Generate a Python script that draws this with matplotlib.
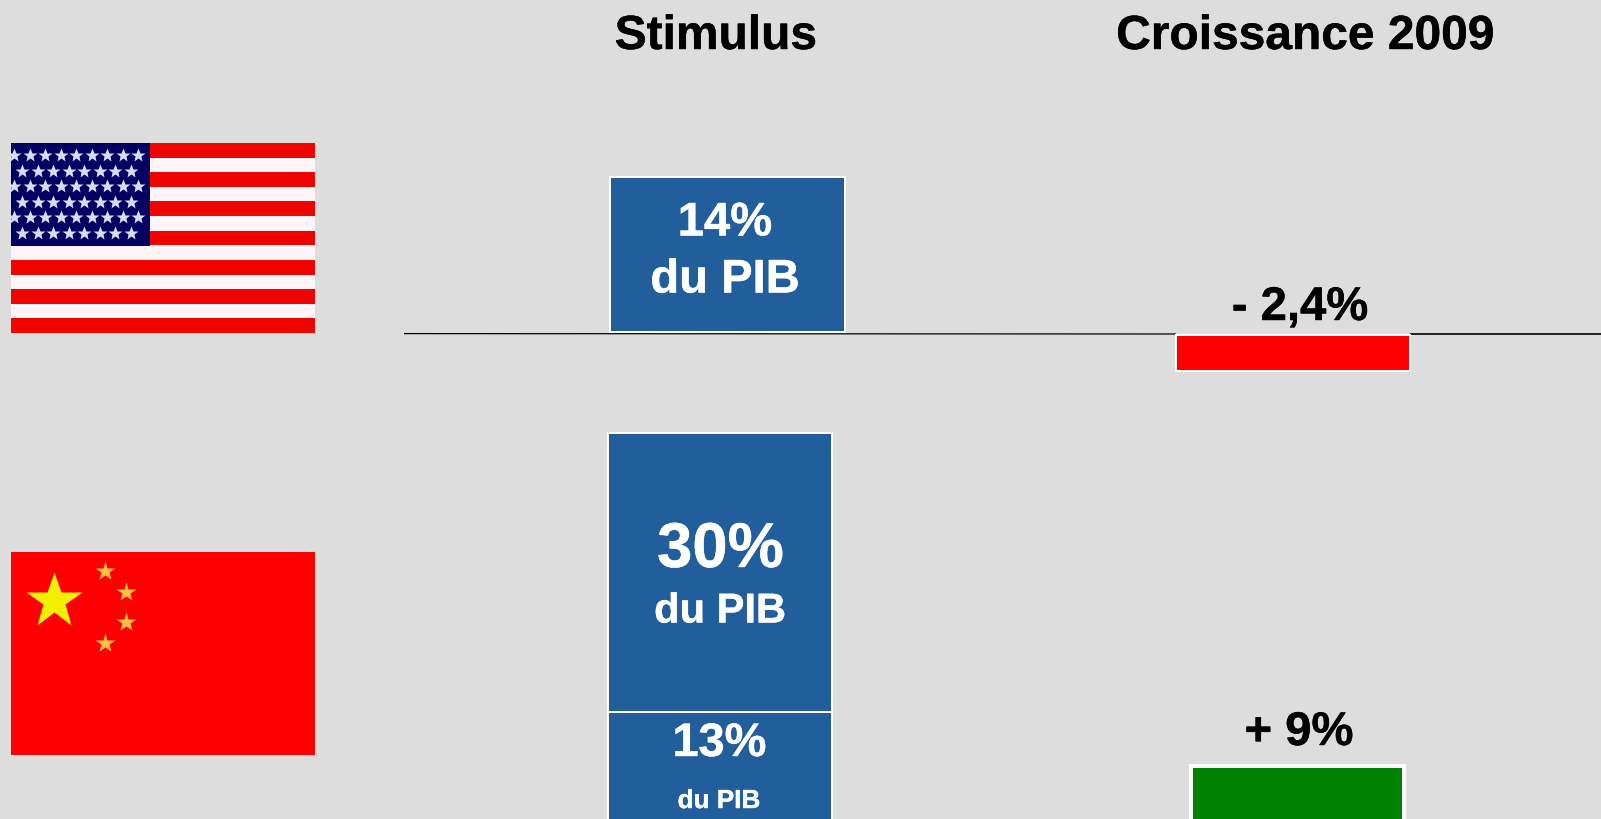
import matplotlib
matplotlib.use("Agg")
import matplotlib.pyplot as plt
import matplotlib.patheffects as pe
from matplotlib.patches import Rectangle

plt.rcParams['font.family'] = ['Liberation Sans', 'DejaVu Sans']

bg_color = '#DDDDDD'
blue = '#225E9B'
red = '#FF0000'
green = '#008000'

# values, in % of GDP and % growth
us_stimulus = 14
china_stimulus = [30, 13]
us_growth = -2.4
china_growth = 9

headers = ['Stimulus', 'Croissance 2009']
us_stimulus_labels = ['14%', 'du PIB']
china_stimulus_labels = ['30%', 'du PIB', '13%', 'du PIB']
growth_labels = ['- 2,4%', '+ 9%']

# the source slide is not to one scale, so each block has its own
px_stim_us = 155 / 14
px_stim_china = 279 / 30
px_growth = 36 / 2.4

fig = plt.figure(figsize=(16.01, 8.2), dpi=100, facecolor=bg_color)
ax = fig.add_axes([0, 0, 1, 1])
ax.set_xlim(0, 1601)
ax.set_ylim(820, 0)
ax.axis('off')


def block(x0, x1, top, height, color, lw=2):
    r = Rectangle((x0, top), x1 - x0, height, facecolor=color, edgecolor='white',
                  linewidth=lw * 0.72, zorder=3)
    ax.add_patch(r)


def label(x, y, s, size, color='white'):
    t = ax.text(x, y, s, fontsize=size, color=color, fontweight='bold', ha='center',
                va='baseline', zorder=4)
    # the reference text is a bit heavier than plain Liberation bold
    t.set_path_effects([pe.withStroke(linewidth=0.3, foreground=color)])


# headers
label(716, 50, headers[0], 34.5, 'black')
label(1305, 50, headers[1], 34.5, 'black')

# baseline of the US row, thinner on the left in the reference
ax.plot([404, 1176], [334.6, 335], color='black', lw=0.9, zorder=1, solid_capstyle='butt')
ax.plot([1410, 1601], [335, 335], color='black', lw=1.2, zorder=1, solid_capstyle='butt')

# US flag
ax.add_patch(Rectangle((11, 144), 304, 190, facecolor='#FFF4FA', edgecolor='none', zorder=2))
stripe_h = 190 / 13
for i in range(0, 13, 2):
    ax.add_patch(Rectangle((11, 144 + i * stripe_h), 304, stripe_h, facecolor='#EE0500',
                           edgecolor='none', zorder=2))
canton = Rectangle((11, 144), 139, 103, facecolor='#000060', edgecolor='none', zorder=2.1)
ax.add_patch(canton)
for row in range(6):
    y = 156 + row * 15.6
    if row % 2 == 0:
        xs = [14 + k * 15.5 for k in range(9)]
    else:
        xs = [22 + k * 15.5 for k in range(8)]
    stars, = ax.plot(xs, [y] * len(xs), ls='none', marker='*', ms=10, color='#D8DCFF', mec='none',
                     zorder=2.2)
    stars.set_clip_path(canton)

# China flag
ax.add_patch(Rectangle((11, 553), 304, 203, facecolor=red, edgecolor='none', zorder=2))
ax.plot([54], [602], marker='*', ms=42, color='#F0F000', mec='none', zorder=2.2)
ax.plot([105, 125.5, 125.5, 105], [572, 593, 623, 644], ls='none', marker='*', ms=15,
        color='#FFC040', mec='none', zorder=2.2)

# US row
block(610, 845, 333 - us_stimulus * px_stim_us, us_stimulus * px_stim_us, blue)
label(725, 236.5, us_stimulus_labels[0], 34)
label(725, 293.5, us_stimulus_labels[1], 34)
block(1176, 1410, 336, abs(us_growth) * px_growth, red)
label(1300, 321, growth_labels[0], 34, 'black')

# China row
block(608, 832, 434, china_stimulus[0] * px_stim_china, blue)
block(608, 832, 434 + china_stimulus[0] * px_stim_china, china_stimulus[1] * px_stim_china, blue)
label(720.5, 568, china_stimulus_labels[0], 45.6)
label(720, 623.5, china_stimulus_labels[1], 30)
label(719.5, 757, china_stimulus_labels[2], 33.8)
label(719, 809, china_stimulus_labels[3], 18.8)
block(1191, 1404, 767, china_growth * px_growth, green, lw=4)
label(1299, 746, growth_labels[1], 34, 'black')

fig.savefig('out.png', dpi=100, facecolor=bg_color)
